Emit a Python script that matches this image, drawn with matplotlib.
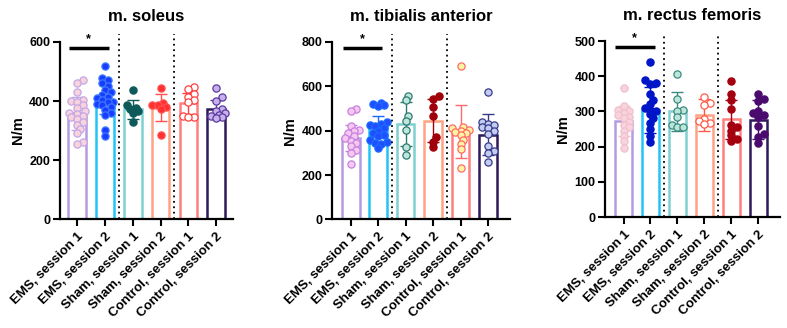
import matplotlib
matplotlib.use("Agg")
import matplotlib.pyplot as plt
import matplotlib.transforms as mtransforms
import numpy as np

plt.rcParams["font.family"] = ["Liberation Sans", "DejaVu Sans"]
plt.rcParams["font.weight"] = "bold"

groups = ["EMS, session 1", "EMS, session 2", "Sham, session 1",
          "Sham, session 2", "Control, session 1", "Control, session 2"]
titles = ["m. soleus", "m. tibialis anterior", "m. rectus femoris"]
y_max = [600, 800, 500]
y_step = [200, 200, 100]

bar_colors = ["#b69be2", "#20c4f6", "#7fd0d0", "#ffa385", "#ff7e7e", "#2c1a5a"]

# bar heights (means) and error bar half-lengths
soleus_mean = [358, 405, 372, 378, 392, 372]
soleus_err = [55, 50, 33, 45, 35, 30]
tibialis_mean = [367, 418, 430, 445, 395, 382]
tibialis_err = [60, 48, 100, 98, 120, 92]
rectus_mean = [273, 305, 300, 290, 278, 277]
rectus_err = [42, 65, 55, 45, 55, 55]

# individual points
soleus_pts = [
    [470, 462, 430, 405, 400, 395, 385, 375, 365, 360, 355, 350, 345, 338, 330, 320, 305, 290, 262, 255],
    [519, 478, 470, 462, 450, 437, 430, 420, 415, 410, 403, 398, 395, 390, 385, 380, 370, 360, 352, 302, 283],
    [437, 385, 378, 372, 365, 358, 330],
    [443, 392, 388, 385, 380, 372, 285],
    [448, 440, 425, 415, 405, 398, 350, 346, 345],
    [445, 412, 400, 372, 365, 358, 352, 348, 345, 342],
]
tibialis_pts = [
    [500, 490, 420, 405, 398, 390, 375, 365, 355, 345, 330, 315, 300, 252],
    [525, 520, 518, 512, 440, 432, 425, 420, 410, 400, 390, 380, 375, 360, 350, 345, 340, 320],
    [557, 540, 465, 445, 405, 325, 290],
    [555, 545, 505, 465, 370, 350, 325],
    [693, 415, 410, 405, 400, 395, 390, 380, 360, 340, 318, 230],
    [573, 440, 430, 425, 418, 410, 400, 385, 330, 310, 300, 258],
]
rectus_pts = [
    [367, 315, 305, 300, 295, 290, 285, 280, 270, 262, 255, 245, 230, 215, 197],
    [440, 388, 382, 378, 350, 332, 320, 310, 305, 300, 292, 280, 268, 250, 230, 212],
    [405, 335, 305, 300, 285, 262, 255, 255],
    [340, 325, 318, 278, 272, 268, 265],
    [386, 350, 332, 308, 262, 255, 245, 232, 222, 215],
    [350, 335, 330, 300, 295, 290, 285, 260, 235, 228, 210],
]

# point face / edge colours per panel
soleus_face = ["#f7d3dc", "#1a3cff", "#0e5a5a", "#ff3030", "#ffffff", "#c8b0ee"]
soleus_edge = ["#c4a6e8", "#3a7bff", "#0e5a5a", "#ff5050", "#ff4040", "#5a3a9a"]
tibialis_face = ["#f5c8f0", "#1f4fff", "#bfe6da", "#a0000a", "#fff5a0", "#c0ccf0"]
tibialis_edge = ["#c880e0", "#1a6aff", "#2d7a70", "#a0000a", "#ff6a6a", "#3a3a8a"]
rectus_face = ["#f8d3db", "#0015c8", "#bde6da", "#ffffff", "#a5000f", "#4a0a6e"]
rectus_edge = ["#f0c0d0", "#0015c8", "#3a8a80", "#ff5a48", "#a5000f", "#4a0a6e"]

panels = [
    (soleus_mean, soleus_err, soleus_pts, soleus_face, soleus_edge),
    (tibialis_mean, tibialis_err, tibialis_pts, tibialis_face, tibialis_edge),
    (rectus_mean, rectus_err, rectus_pts, rectus_face, rectus_edge),
]

positions = [
    [0.076, 0.332, 0.220, 0.540],
    [0.422, 0.331, 0.226, 0.541],
    [0.769, 0.338, 0.222, 0.537],
]
xlims = [(-0.62, 5.6), (-0.68, 5.8), (-0.68, 5.8)]


def swarm_offsets(vals, ux, uy, diam_px, step_px, max_steps=3):
    """Compact beeswarm: shift sideways on overlap, keep within the bar."""
    order = np.argsort(vals)
    placed = []
    offs = np.zeros(len(vals))
    cands = [0.0]
    for k in range(1, max_steps + 1):
        cands += [k * step_px, -k * step_px]
    for i in order:
        y = vals[i] * uy
        best, best_d = 0.0, -1.0
        for c in cands:
            d = min([np.hypot(c - px, y - py) for px, py in placed] or [1e9])
            if d >= diam_px * 0.65:
                best = c
                break
            if d > best_d:
                best, best_d = c, d
        placed.append((best, y))
        offs[i] = best / ux
    return offs


fig = plt.figure(figsize=(7.87, 3.28), dpi=100)
x = np.arange(len(groups))

for p, (mean, err, pts, face, edge) in enumerate(panels):
    ax = fig.add_axes(positions[p])
    ax.set_xlim(*xlims[p])
    ax.set_ylim(0, y_max[p])

    ax.bar(x, mean, width=0.64, color="white", edgecolor=bar_colors,
           linewidth=1.8, zorder=1)
    for i in range(len(groups)):
        ax.errorbar(x[i], mean[i], yerr=err[i], fmt="none", ecolor=edge[i],
                    elinewidth=1.0, capsize=4, capthick=1.0, zorder=2)

    # pixels per data unit for point spreading
    bbox = ax.get_window_extent()
    ux = bbox.width / (xlims[p][1] - xlims[p][0])
    uy = bbox.height / y_max[p]
    for i, vals in enumerate(pts):
        vals = np.array(vals, dtype=float)
        offs = swarm_offsets(vals, ux, uy, 7.0, 2.8)
        ax.scatter(x[i] + offs, vals, s=27, facecolor=face[i], edgecolor=edge[i],
                   linewidth=0.9, zorder=3, clip_on=False)

    trans = mtransforms.blended_transform_factory(ax.transData, ax.transAxes)
    for xv in (1.5, 3.5):
        ax.plot([xv, xv], [0, 1.045], transform=trans, color="black",
                linestyle=(0, (1, 2)), linewidth=1.3, clip_on=False, zorder=4)

    # significance bracket
    sig_y = y_max[p] * 0.967
    ax.plot([-0.3, 1.15], [sig_y, sig_y], color="black", linewidth=2.5,
            solid_capstyle="butt", clip_on=False, zorder=4)
    ax.text(0.42, sig_y + y_max[p] * 0.015, "*", ha="center", va="bottom",
            fontsize=9, fontweight="bold")

    ax.set_title(titles[p], fontsize=12, fontweight="bold", pad=15)
    ax.set_ylabel("N/m", fontsize=10.5, fontweight="bold", labelpad=3)
    ax.set_yticks(np.arange(0, y_max[p] + 1, y_step[p]))
    ax.set_xticks(x)
    ax.set_xticklabels(groups, rotation=45, ha="right", rotation_mode="anchor",
                       fontsize=9.5, fontweight="bold")
    for lbl in ax.get_yticklabels():
        lbl.set_fontweight("bold")
        lbl.set_fontsize(9)
    ax.tick_params(axis="both", width=1.5, length=5, pad=2)
    ax.tick_params(axis="x", pad=3)
    for side in ("top", "right"):
        ax.spines[side].set_visible(False)
    for side in ("left", "bottom"):
        ax.spines[side].set_linewidth(1.6)

fig.savefig("out.png", dpi=100)
